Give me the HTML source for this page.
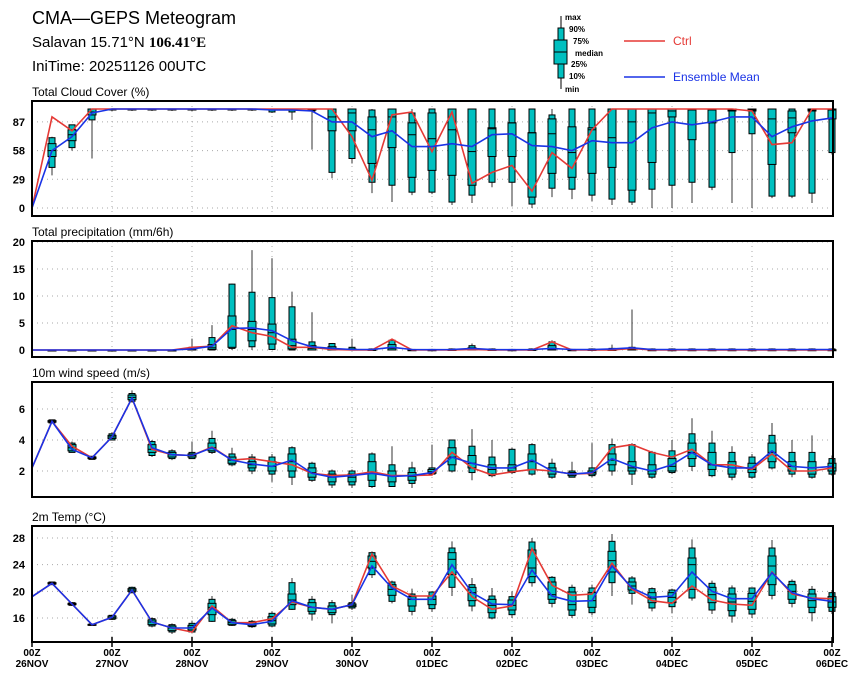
<!DOCTYPE html>
<html><head><meta charset="utf-8"><style>
body{margin:0;background:#fff;width:860px;height:680px;overflow:hidden}
svg{display:block;font-family:"Liberation Sans",sans-serif}
</style></head><body>
<svg id="chart" width="860" height="680" viewBox="0 0 860 680" xmlns="http://www.w3.org/2000/svg">
<g>
<text x="32" y="24" font-size="18">CMA—GEPS Meteogram</text>
<text x="32" y="47" font-size="15">Salavan 15.71°N <tspan font-family="Liberation Serif" font-weight="bold">106.41°E</tspan></text>
<text x="32" y="71" font-size="15">IniTime: 20251126 00UTC</text>
</g>
<g font-size="8" font-weight="bold">
<line x1="561" y1="16" x2="561" y2="89" stroke="#000"/>
<rect x="558" y="28" width="6" height="50" fill="#00c0c0" stroke="#000"/>
<rect x="554" y="40" width="13" height="24" fill="#00c0c0" stroke="#000"/>
<line x1="554" y1="52" x2="567" y2="52" stroke="#000"/>
<text x="565" y="20">max</text><text x="569" y="32">90%</text><text x="573" y="44">75%</text>
<text x="575" y="56">median</text><text x="571" y="67">25%</text><text x="569" y="79">10%</text><text x="565" y="92">min</text>
<line x1="624" y1="41" x2="665" y2="41" stroke="#e53935" stroke-width="1.5"/>
<text x="673" y="45" font-size="12" font-weight="normal" fill="#e53935">Ctrl</text>
<line x1="624" y1="77" x2="665" y2="77" stroke="#1a33e6" stroke-width="1.5"/>
<text x="673" y="81" font-size="12" font-weight="normal" fill="#1a33e6">Ensemble Mean</text>
</g>
</svg>
<script>
const dayLabels=["26NOV","27NOV","28NOV","29NOV","30NOV","01DEC","02DEC","03DEC","04DEC","05DEC","06DEC"];
const cloudTicks=[0,29,58,87];
const precipTicks=[0,5,10,15,20];
const windTicks=[2,4,6];
const tempTicks=[16,20,24,28];

const cloudCtrl=[0,92,78,100,100,100,100,100,100,100,100,100,100,100,100,100,72,28,94,97,57,97,25,36,43,17,56,40,79,100,100,100,100,100,100,100,98,64,66,100,100];
const cloudMean=[0,58,72,96,100,100,100,100,100,100,100,100,99,99,98,87,87,72,78,62,62,65,62,74,75,63,62,58,68,66,66,81,87,84,87,92,92,72,82,88,91];
const cloudMin=[null,33,58,50,98,98,98,98,98,98,98,98,96,89,59,30,45,15,6,13,14,3,5,21,2,0,11,9,7,3,3,0,0,5,18,5,0,10,10,5,54];
const cloudP10=[null,41,61,89,99,99,99,99,99,99,99,99,97,97,98,36,50,26,23,16,16,6,13,26,26,4,20,19,13,9,6,19,23,26,21,56,75,12,12,15,56];
const cloudP25=[null,52,68,94,100,100,100,100,100,100,100,100,99,99,99,78,78,45,61,31,38,33,23,52,52,11,35,31,35,41,18,46,92,69,86,98,98,44,76,98,90];
const cloudMed=[null,58,74,97,100,100,100,100,100,100,100,100,100,100,100,92,96,79,92,74,70,79,57,80,86,76,75,56,79,71,87,96,98,99,99,99,99,90,91,99,99];
const cloudP75=[null,65,79,100,100,100,100,100,100,100,100,100,100,100,100,100,100,92,100,86,96,100,100,81,86,76,90,82,81,100,100,100,100,100,100,100,100,100,98,100,100];
const cloudP90=[null,71,84,100,100,100,100,100,100,100,100,100,100,100,100,100,100,99,100,96,100,100,100,100,100,100,94,100,100,100,100,100,100,100,100,100,100,100,100,100,100];
const cloudMax=[null,72,84,100,100,100,100,100,100,100,100,100,100,100,100,100,100,100,100,100,100,100,100,100,100,100,100,100,100,100,100,100,100,100,100,100,100,100,100,100,100];

const precipCtrl=[0,0,0,0,0,0,0,0,0.5,0.7,4.5,3.2,2.5,0.5,0.5,0.1,0,0,2.0,0,0,0,0.1,0,0,0,1.5,0,0,0,0.3,0,0,0,0,0,0,0,0,0,0];
const precipMean=[0,0,0,0,0,0,0,0,0.2,0.7,4.0,4.1,3.6,1.7,0.6,0.3,0.1,0.1,0.5,0.1,0.05,0.1,0.3,0.1,0.05,0.1,0.3,0.1,0.1,0.2,0.4,0.1,0.1,0.1,0.1,0.1,0.1,0.1,0.1,0.1,0.1];
const precipMin=[null,0,0,0,0,0,0,0,0,0,0,0,0,0,0,0,0,0,0,0,0,0,0,0,0,0,0,0,0,0,0,0,0,0,0,0,0,0,0,0,0];
const precipP10=[null,0,0,0,0,0,0,0,0,0,0.3,0.6,0.1,0,0,0,0,0,0,0,0,0,0,0,0,0,0,0,0,0,0,0,0,0,0,0,0,0,0,0,0];
const precipP25=[null,0,0,0,0,0,0,0,0,0.1,0.5,1.7,1.1,0.2,0,0,0,0,0,0,0,0,0,0,0,0,0,0,0,0,0,0,0,0,0,0,0,0,0,0,0];
const precipMed=[null,0,0,0,0,0,0,0,0.1,0.4,3.8,3.8,3.2,0.8,0.3,0.2,0,0,0.3,0,0,0,0.1,0,0,0,0.2,0,0,0,0.1,0,0,0,0,0,0,0,0,0,0];
const precipP75=[null,0,0,0,0,0,0,0,0.3,1.0,6.3,5.3,4.8,2.0,0.8,0.6,0.2,0.1,1.0,0.05,0.05,0.1,0.4,0.1,0.05,0.1,0.8,0.05,0.1,0.1,0.2,0.05,0.05,0.05,0.05,0.05,0.05,0.05,0.05,0.05,0.05];
const precipP90=[null,0,0,0,0,0,0,0,0.5,2.3,12.2,10.7,9.7,8.0,1.5,1.2,0.5,0.2,1.8,0.1,0.1,0.2,0.8,0.2,0.1,0.2,1.5,0.1,0.2,0.3,0.5,0.2,0.2,0.2,0.2,0.2,0.2,0.2,0.2,0.2,0.2];
const precipMax=[null,0,0,0,0,0,0,0,2.1,4.6,12.3,18.5,17,10.8,7,1.3,2.1,0.3,2.0,0.2,0.2,0.3,1.2,0.3,0.2,0.3,1.8,0.2,0.3,1.0,7.5,0.3,0.3,0.3,0.3,0.3,0.3,0.3,0.3,0.3,0.3];

const windCtrl=[2.2,5.2,3.6,2.85,4.2,6.7,3.4,3.05,3.0,3.55,2.7,2.8,2.6,2.4,1.85,1.7,1.75,1.95,1.7,1.7,1.75,3.2,2.2,1.75,1.95,2.1,2.0,1.8,1.85,3.5,3.7,3.2,2.9,3.4,2.4,2.4,2.1,3.1,2.0,2.0,2.2];
const windMean=[2.2,5.2,3.4,2.85,4.2,6.7,3.5,3.05,3.0,3.5,2.7,2.45,2.3,2.7,1.85,1.6,1.7,1.85,1.65,1.7,1.9,2.9,2.5,2.2,2.2,2.7,2.0,1.8,1.9,2.8,2.3,2.0,2.4,3.2,2.4,2.2,2.2,3.3,2.3,2.2,2.3];
const windMin=[null,5.1,3.2,2.75,4.0,6.4,2.9,2.7,2.8,3.1,2.3,1.8,1.3,1.1,1.3,0.9,0.9,0.9,1.0,0.9,1.7,1.9,1.4,1.6,1.8,1.7,1.5,1.6,1.6,1.7,1.1,1.5,1.8,2.0,1.6,1.4,1.5,2.1,1.6,1.5,1.7];
const windP10=[null,5.1,3.2,2.75,4.0,6.5,3.0,2.8,2.8,3.2,2.4,2.0,1.8,1.6,1.4,1.1,1.1,1.0,1.0,1.2,1.8,2.0,1.9,1.7,1.9,1.8,1.6,1.6,1.7,2.0,1.8,1.6,1.9,2.3,1.7,1.6,1.6,2.2,1.8,1.6,1.8];
const windP25=[null,5.15,3.3,2.8,4.1,6.6,3.2,2.9,2.9,3.3,2.5,2.2,2.0,2.0,1.6,1.3,1.3,1.4,1.3,1.4,1.85,2.4,2.2,1.8,2.0,2.1,1.8,1.7,1.8,2.4,2.0,1.8,2.0,2.8,2.1,1.8,1.9,2.6,2.0,1.8,2.0];
const windMed=[null,5.2,3.5,2.85,4.2,6.75,3.4,3.05,3.0,3.5,2.7,2.4,2.3,2.6,1.9,1.6,1.6,1.9,1.7,1.65,1.95,2.9,2.5,2.1,2.2,2.6,2.0,1.8,1.9,2.7,2.2,2.0,2.3,3.2,2.4,2.2,2.1,3.2,2.3,2.2,2.2];
const windP75=[null,5.25,3.7,2.9,4.3,6.9,3.7,3.2,3.1,3.8,2.9,2.6,2.6,3.1,2.2,1.8,1.8,2.6,2.0,1.9,2.1,3.5,3.0,2.4,2.4,3.1,2.2,1.9,2.0,3.1,2.6,2.4,2.8,3.8,3.2,2.6,2.5,3.8,2.6,2.6,2.5];
const windP90=[null,5.3,3.8,2.95,4.4,7.0,3.9,3.3,3.2,4.1,3.1,2.9,2.9,3.5,2.5,2.0,2.0,3.1,2.4,2.2,2.2,4.0,3.6,2.9,3.4,3.7,2.5,2.0,2.2,3.7,3.7,3.2,3.3,4.4,3.8,3.2,2.9,4.3,3.2,3.2,2.8];
const windMax=[null,5.3,3.9,2.95,4.5,7.2,4.0,3.4,3.9,4.6,3.5,3.1,3.1,3.6,2.6,2.1,2.1,3.2,3.6,2.6,3.7,4.0,4.7,4.0,3.5,3.8,2.8,2.6,3.8,4.1,3.8,3.3,4.0,5.4,4.6,3.6,3.1,5.1,4.0,4.3,3.0];

const tempCtrl=[19.2,21.2,18.1,15.0,16.1,20.2,15.4,14.5,13.9,17.8,15.3,15.3,15.9,18.4,17.6,17.3,18.0,25.6,20.8,19.3,19.3,22.9,19.2,17.3,17.8,26.4,20.9,19.4,19.6,24.2,20.3,18.6,18.2,20.8,18.7,18.1,17.9,22.9,19.6,19.0,18.9];
const tempMean=[19.2,21.2,18.1,15.0,16.1,20.2,15.4,14.5,14.5,17.5,15.3,15.0,15.5,18.6,17.6,17.3,18.0,23.8,20.5,18.8,18.8,24.0,19.8,18.1,18.0,23.2,19.3,18.5,18.6,23.8,20.5,19.1,19.3,22.9,20.0,18.9,18.9,22.8,19.8,18.9,18.5];
const tempMin=[null,21.0,17.8,14.8,15.7,19.7,14.6,13.6,13.7,15.4,14.8,14.5,14.6,17.2,15.6,15.2,17.2,22.0,18.2,16.4,16.9,19.3,17.0,15.8,16.0,20.7,17.6,16.0,16.4,19.3,18.0,17.0,16.7,18.6,16.6,15.3,16.0,18.8,17.6,15.5,16.6];
const tempP10=[null,21.0,17.9,14.9,15.8,19.8,14.8,13.9,13.9,15.5,14.9,14.7,14.8,17.3,16.6,16.5,17.5,22.5,18.5,17.0,17.4,20.6,17.8,16.0,16.5,21.3,18.2,16.4,16.8,21.3,19.7,17.5,17.7,19.0,17.2,16.3,16.6,19.4,18.2,16.8,17.0];
const tempP25=[null,21.1,18.0,14.95,15.9,20.0,15.0,14.1,14.2,16.5,15.0,14.8,15.1,18.0,17.0,16.8,17.7,23.5,19.4,17.8,18.0,22.5,18.6,16.8,17.2,22.2,18.8,17.2,17.6,22.9,20.2,18.3,18.3,20.3,18.3,17.1,17.3,21.0,18.8,17.6,17.6];
const tempMed=[null,21.2,18.1,15.0,16.1,20.2,15.4,14.5,14.6,17.6,15.3,15.0,15.6,18.7,17.6,17.3,17.9,24.5,20.3,18.8,18.8,24.8,19.8,17.9,17.9,23.5,19.5,18.0,18.6,24.6,20.8,19.0,19.1,24.0,19.5,18.4,18.5,23.8,20.0,18.6,18.4];
const tempP75=[null,21.3,18.2,15.05,16.3,20.4,15.7,14.8,14.9,18.2,15.6,15.3,16.2,19.6,18.3,17.8,18.1,25.3,21.0,19.2,19.3,25.8,20.6,18.8,18.7,26.2,21.4,19.9,19.8,26.0,21.4,19.8,19.8,25.0,20.6,19.6,19.7,25.3,21.0,19.6,19.2];
const tempP90=[null,21.4,18.3,15.1,16.4,20.6,15.9,15.0,15.2,18.8,15.8,15.5,16.7,21.3,18.8,18.3,18.3,25.8,21.4,19.6,19.9,26.5,21.0,19.3,19.2,27.4,22.1,20.6,20.5,27.5,22.0,20.4,20.2,26.5,21.2,20.5,20.5,26.5,21.5,20.3,19.8];
const tempMax=[null,21.4,18.4,15.2,16.5,20.7,16.1,15.2,15.6,19.3,16.0,15.7,17.0,22.0,19.3,18.7,19.5,26.0,21.6,20.4,20.0,27.5,22.0,20.5,20.0,28.0,22.3,21.0,21.0,28.6,22.3,20.6,20.4,27.8,21.6,20.9,20.6,27.7,21.8,20.8,20.2];

const NS="http://www.w3.org/2000/svg";
const svg=document.getElementById("chart");
const X0=32,X1=833;
function xAt(i){return X0+i*(X1-X0-1)/40;}
function mk(tag,attrs,parent){const e=document.createElementNS(NS,tag);for(const k in attrs)e.setAttribute(k,attrs[k]);(parent||svg).appendChild(e);return e;}

const panels=[
 {name:"cloud",title:"Total Cloud Cover (%)",top:101,bot:216,v0:0,y0:208,v1:100,y1:109,ticks:cloudTicks,ctrl:cloudCtrl,mean:cloudMean,mn:cloudMin,p10:cloudP10,p25:cloudP25,med:cloudMed,p75:cloudP75,p90:cloudP90,mx:cloudMax},
 {name:"precip",title:"Total precipitation (mm/6h)",top:241,bot:357,v0:0,y0:350,v1:20,y1:242,ticks:precipTicks,ctrl:precipCtrl,mean:precipMean,mn:precipMin,p10:precipP10,p25:precipP25,med:precipMed,p75:precipP75,p90:precipP90,mx:precipMax},
 {name:"wind",title:"10m wind speed (m/s)",top:382,bot:497,v0:2,y0:471,v1:6,y1:409,ticks:windTicks,ctrl:windCtrl,mean:windMean,mn:windMin,p10:windP10,p25:windP25,med:windMed,p75:windP75,p90:windP90,mx:windMax},
 {name:"temp",title:"2m Temp (°C)",top:526,bot:642,v0:16,y0:618,v1:28,y1:538,ticks:tempTicks,ctrl:tempCtrl,mean:tempMean,mn:tempMin,p10:tempP10,p25:tempP25,med:tempMed,p75:tempP75,p90:tempP90,mx:tempMax}
];

panels.forEach(function(p){
 const yAt=function(v){return p.y0+(v-p.v0)*(p.y1-p.y0)/(p.v1-p.v0);};
 const g=mk("g",{});
 
 
 const t=mk("text",{x:32,y:p.top-5,"font-size":12},g);t.textContent=p.title;
 
 
 p.ticks.forEach(function(v){
  const y=yAt(v);
  const gl=mk("line",{x1:X0,x2:X1,y1:y,y2:y,stroke:"#aaa","stroke-dasharray":"1,4"},g);
  
  
  const tl=mk("text",{x:25,y:y+4,"font-size":11,"font-weight":"bold","text-anchor":"end"},g);
  tl.textContent=v;
  
  
 });
 for(let d=1;d<10;d++){
  const vx=xAt(d*4);
  const vl=mk("line",{x1:vx,x2:vx,y1:p.top,y2:p.bot,stroke:"#aaa","stroke-dasharray":"1,4"},g);
  
  
 }
 for(let i=0;i<=40;i++){
  if(p.p10[i]==null)continue;
  const x=xAt(i);
  const bg=mk("g",{},g);
  
  
  mk("line",{x1:x,x2:x,y1:yAt(p.mx[i]),y2:yAt(p.mn[i]),stroke:"#333","stroke-width":1},bg);
  const a=yAt(p.p90[i]),b=yAt(p.p10[i]);
  mk("rect",{x:x-3,y:a,width:6,height:Math.max(1,b-a),fill:"#00c0c0",stroke:"#000","stroke-width":1},bg);
  const c=yAt(p.p75[i]),e=yAt(p.p25[i]);
  mk("rect",{x:x-4,y:c,width:8,height:Math.max(1,e-c),fill:"#00c0c0",stroke:"#000","stroke-width":1},bg);
  const m=yAt(p.med[i]);
  mk("line",{x1:x-4,x2:x+4,y1:m,y2:m,stroke:"#000","stroke-width":1},bg);
 }
 const pts=function(arr){return arr.map(function(v,i){return xAt(i).toFixed(1)+","+yAt(v).toFixed(1);}).join(" ");};
 const cl=mk("polyline",{points:pts(p.ctrl),fill:"none",stroke:"#e53935","stroke-width":1.6},g);
 
 
 const ml=mk("polyline",{points:pts(p.mean),fill:"none",stroke:"#1a33e6","stroke-width":1.6},g);
 
 
 const fr=mk("rect",{x:X0,y:p.top,width:X1-X0,height:p.bot-p.top,fill:"none",stroke:"#000","stroke-width":2},g);
 
 
});

const xa=mk("g",{"font-size":10,"font-weight":"bold","text-anchor":"middle"});


dayLabels.forEach(function(lbl,d){
 const x=xAt(d*4);
 mk("line",{x1:x,x2:x,y1:637,y2:647,stroke:"#000","stroke-width":1.5},xa);
 const t1=mk("text",{x:x,y:656},xa);t1.textContent="00Z";
 
 
 const t2=mk("text",{x:x,y:667},xa);t2.textContent=lbl;
 
 
});
</script>
</body></html>
